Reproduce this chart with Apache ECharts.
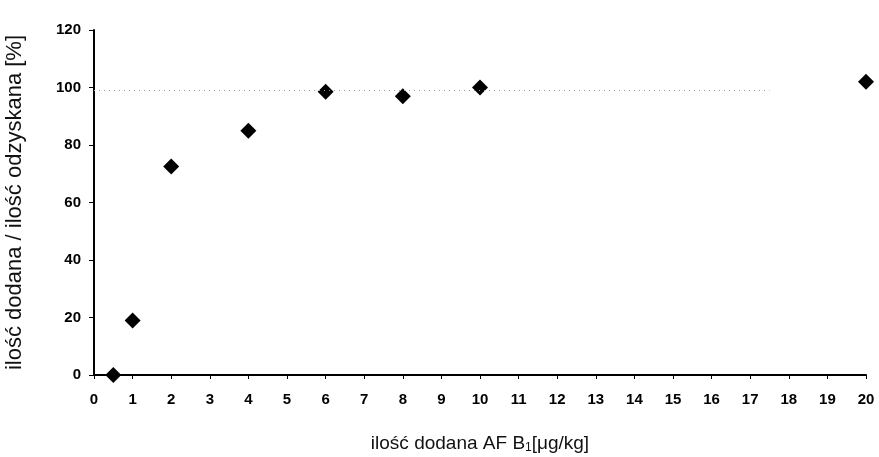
<!DOCTYPE html>
<html lang="pl">
<head>
    <meta charset="UTF-8">
    <title>Odzysk AF B1</title>
    <script src="https://cdn.jsdelivr.net/npm/echarts@6/dist/echarts.min.js"></script>
    <style>
        html, body { margin: 0; padding: 0; background: #fff; }
        .demo { width: 879px; height: 457px; }
    </style>
</head>
<body>
    <div class="demo"></div>
    <script>
        // dane
        var dodane = [0.5, 1, 2, 4, 6, 8, 10, 20]
        var odzysk = [0, 19, 72.5, 85, 98.5, 97, 100, 102]
        var poziomLinii = 99

        var points = dodane.map(function (x, i) { return [x, odzysk[i]] })

        var chart = echarts.init(document.querySelector('.demo'))
        var font = '"Liberation Sans", Arial, sans-serif'
        var option = {
            animation: false,
            grid: { left: 94, right: 13, top: 30, bottom: 82, outerBoundsMode: 'none', containLabel: false },
            xAxis: {
                type: 'value',
                min: 0,
                max: 20,
                interval: 1,
                name: '{a|ilość dodana AF B}{s|1}{a|[μg/kg]}',
                nameLocation: 'middle',
                nameGap: 58,
                nameTextStyle: {
                    rich: {
                        a: { fontFamily: font, fontSize: 19, color: '#111' },
                        s: { fontFamily: font, fontSize: 12, color: '#111', verticalAlign: 'bottom', padding: [9, 0, 0, 0] }
                    }
                },
                axisLine: { lineStyle: { color: '#000', width: 2 } },
                axisTick: { show: true, length: 4, lineStyle: { color: '#000' } },
                axisLabel: { color: '#000', fontFamily: font, fontWeight: 'bold', fontSize: 15, margin: 17 },
                splitLine: { show: false }
            },
            yAxis: {
                type: 'value',
                min: 0,
                max: 120,
                interval: 20,
                name: 'ilość dodana / ilość odzyskana [%]',
                nameLocation: 'middle',
                nameGap: 68,
                nameTextStyle: { fontFamily: font, fontSize: 22, color: '#111' },
                axisLine: { show: true, lineStyle: { color: '#000', width: 2 } },
                axisTick: { show: true, length: 5, lineStyle: { color: '#000' } },
                axisLabel: { color: '#000', fontFamily: font, fontWeight: 'bold', fontSize: 15, margin: 13 },
                splitLine: { show: false }
            },
            series: [{
                type: 'scatter',
                data: points,
                symbol: 'diamond',
                symbolSize: 16,
                itemStyle: { color: '#000', opacity: 1 },
                markLine: {
                    silent: true,
                    symbol: 'none',
                    label: { show: false },
                    lineStyle: { color: '#999', type: [1, 4], width: 1 },
                    data: [[{ coord: [0, poziomLinii] }, { coord: [17.5, poziomLinii] }]]
                }
            }]
        }
        chart.setOption(option)
    </script>
</body>
</html>
